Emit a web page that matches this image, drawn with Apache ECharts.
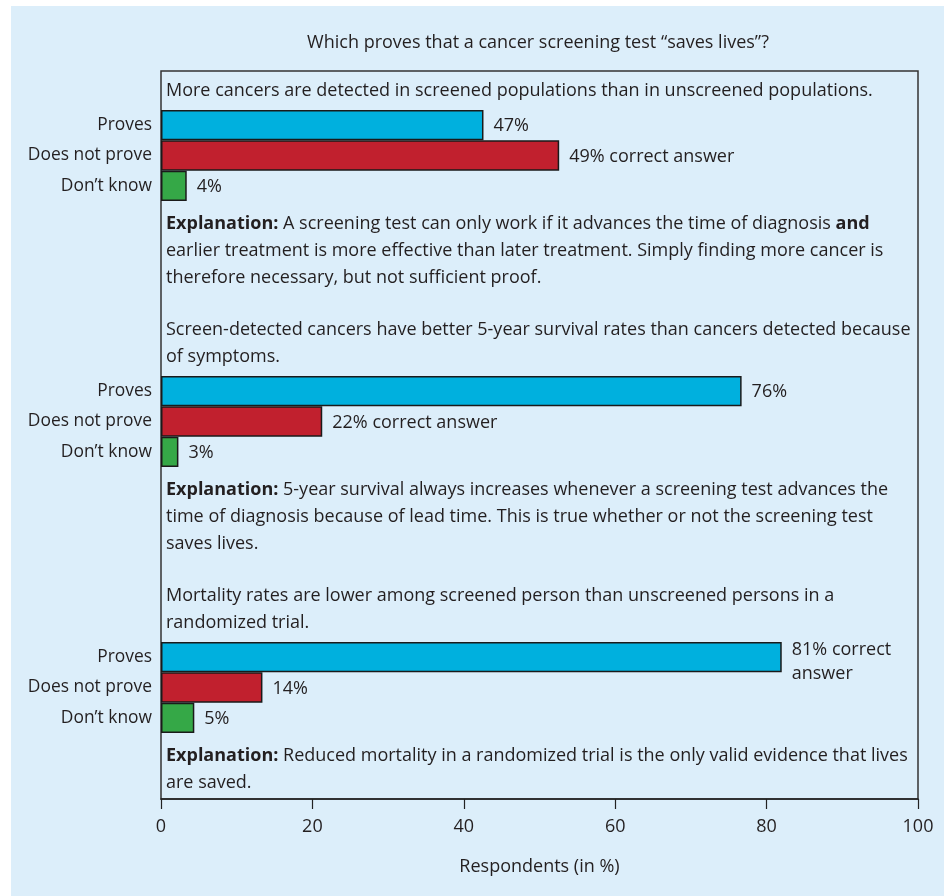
<!DOCTYPE html>
<html>
<head>
<meta charset="utf-8">
<script src="https://cdn.jsdelivr.net/npm/echarts@6/dist/echarts.min.js"></script>
<style>
html,body{margin:0;padding:0;background:#ffffff;}
#chart{width:944px;height:896px;}
</style>
</head>
<body>
<div id="chart"></div>
<script>
// ---- data ----
const chartTitle = 'Which proves that a cancer screening test “saves lives”?';
const categories = ['Proves', 'Does not prove', 'Don’t know'];
const barColors = ['#00b0de', '#c1202e', '#35a847'];

const question1 = ['More cancers are detected in screened populations than in unscreened populations.'];
const values1 = [42.6, 52.6, 3.4];
const labels1 = ['47%', '49% correct answer', '4%'];
const explanation1 = [
  '{b|Explanation:} A screening test can only work if it advances the time of diagnosis {b|and}',
  'earlier treatment is more effective than later treatment. Simply finding more cancer is',
  'therefore necessary, but not sufficient proof.'
];

const question2 = ['Screen-detected cancers have better 5-year survival rates than cancers detected because', 'of symptoms.'];
const values2 = [76.7, 21.3, 2.3];
const labels2 = ['76%', '22% correct answer', '3%'];
const explanation2 = [
  '{b|Explanation:} 5-year survival always increases whenever a screening test advances the',
  'time of diagnosis because of lead time. This is true whether or not the screening test',
  'saves lives.'
];

const question3 = ['Mortality rates are lower among screened person than unscreened persons in a', 'randomized trial.'];
const values3 = [82.0, 13.4, 4.4];
const labels3 = ['81% correct\nanswer', '14%', '5%'];
const explanation3 = [
  '{b|Explanation:} Reduced mortality in a randomized trial is the only valid evidence that lives',
  'are saved.'
];

const xMin = 0, xMax = 100, xInterval = 20;
const xAxisName = 'Respondents (in %)';

// ---- layout ----
const FONT = 'Open Sans';
const FS = 18;
const FS_CAT = 17.4;
const TEXT = '#231f20';
const plotLeft = 161, plotRight = 26, plotTop = 71, plotBottom = 97;
const groupTops = [110, 376, 642];
const groupH = 91;
const lineGap = 26.7;

const groups = [
  {q: question1, v: values1, l: labels1, e: explanation1},
  {q: question2, v: values2, l: labels2, e: explanation2},
  {q: question3, v: values3, l: labels3, e: explanation3}
];

const grids = [{left: plotLeft, right: plotRight, top: plotTop, bottom: plotBottom,
  show: true, borderColor: '#333', borderWidth: 1.5, backgroundColor: 'transparent'}];
const xAxes = [{
  gridIndex: 0, type: 'value', min: xMin, max: xMax, interval: xInterval,
  axisLine: {show: true, lineStyle: {color: '#222', width: 1.5}},
  axisTick: {show: true, length: 10, lineStyle: {color: '#222', width: 1.2}},
  axisLabel: {margin: 19, color: TEXT, fontFamily: FONT, fontSize: FS},
  splitLine: {show: false},
  name: xAxisName, nameLocation: 'middle', nameGap: 59,
  nameTextStyle: {color: TEXT, fontFamily: FONT, fontSize: FS}
}];
const yAxes = [{gridIndex: 0, type: 'value', min: 0, max: 1, show: false}];
const series = [];
const graphics = [
  {type: 'rect', z: -10, silent: true, shape: {x: 11, y: 6, width: 944 - 11, height: 896 - 6}, style: {fill: '#dceefa'}},
  {type: 'text', style: {text: chartTitle, x: 538, y: 43, align: 'center', verticalAlign: 'middle',
    font: FS + 'px "' + FONT + '"', fill: TEXT}}
];

const rich = {b: {fontWeight: 'bold', fontFamily: FONT, fontSize: FS, fill: TEXT, color: TEXT}};
function addLine(txt, y) {
  graphics.push({type: 'text', style: {text: txt, x: 166, y: y, align: 'left', verticalAlign: 'middle',
    font: FS + 'px "' + FONT + '"', fill: TEXT, rich: rich}});
}

groups.forEach(function (g, i) {
  const top = groupTops[i];
  grids.push({left: plotLeft, right: plotRight, top: top, height: groupH});
  xAxes.push({gridIndex: i + 1, type: 'value', min: xMin, max: xMax, show: false});
  yAxes.push({gridIndex: i + 1, type: 'category', data: categories, inverse: true,
    axisLine: {show: false}, axisTick: {show: false},
    axisLabel: {margin: 9, color: TEXT, fontFamily: FONT, fontSize: FS_CAT}});
  series.push({
    type: 'bar', xAxisIndex: i + 1, yAxisIndex: i + 1, barCategoryGap: '0%', barWidth: '100%',
    data: g.v.map(function (v, k) {
      const multi = g.l[k].indexOf('\n') >= 0;
      return {value: v, itemStyle: {color: barColors[k]},
        label: {formatter: g.l[k], offset: multi ? [0, 5] : [0, 1]}};
    }),
    itemStyle: {borderColor: '#1a1a1a', borderWidth: 1.5},
    label: {show: true, position: 'right', distance: 10, color: TEXT, fontFamily: FONT, fontSize: FS,
      lineHeight: 24, align: 'left'}
  });
  const qLast = top - 19;
  g.q.forEach(function (line, j) {
    addLine(line, qLast - (g.q.length - 1 - j) * 27.5);
  });
  const eFirst = top + groupH + 23;
  g.e.forEach(function (line, j) {
    addLine(line, eFirst + j * lineGap);
  });
});

const chart = echarts.init(document.getElementById('chart'), null, {renderer: 'canvas'});
chart.setOption({
  backgroundColor: '#ffffff',
  animation: false,
  textStyle: {fontFamily: FONT},
  grid: grids,
  xAxis: xAxes,
  yAxis: yAxes,
  series: series,
  graphic: graphics
});
</script>
</body>
</html>
